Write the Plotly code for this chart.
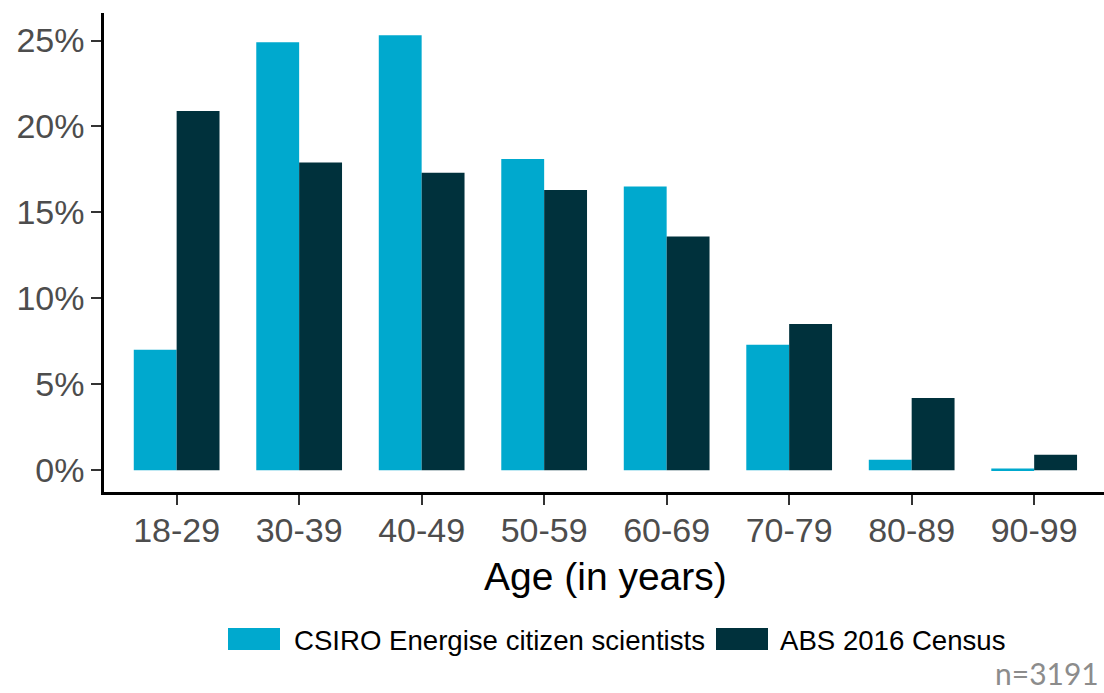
import plotly.graph_objects as go

categories = ["18-29", "30-39", "40-49", "50-59", "60-69", "70-79", "80-89", "90-99"]
csiro_values = [7.0, 24.9, 25.3, 18.1, 16.5, 7.3, 0.6, 0.1]
abs_values = [20.9, 17.9, 17.3, 16.3, 13.6, 8.5, 4.2, 0.9]
series_names = ["CSIRO Energise citizen scientists", "ABS 2016 Census"]
series_colors = ["#00A9CE", "#00313C"]
y_ticks = [0, 5, 10, 15, 20, 25]
y_tick_labels = ["0%", "5%", "10%", "15%", "20%", "25%"]

W, H = 1104, 693
L, R, T, B = 104, 0, 13, 201
PW, PH = W - L - R, H - T - B

def px(xpix):
    return (xpix - L) / PW

def py(ypix):
    return (H - B - ypix) / PH

FONT = "Liberation Sans, Arial, sans-serif"

fig = go.Figure()
for name, vals, col in zip(series_names, [csiro_values, abs_values], series_colors):
    fig.add_trace(go.Bar(x=categories, y=vals, name=name, marker=dict(color=col, line=dict(width=0)),
                         showlegend=False))

fig.update_layout(
    width=W, height=H,
    margin=dict(l=L, r=R, t=T, b=B, pad=0),
    plot_bgcolor="white", paper_bgcolor="white",
    barmode="group", bargap=0.3, bargroupgap=0,
    font=dict(family=FONT),
)
fig.update_xaxes(
    range=[-0.593, 7.57], showgrid=False, zeroline=False,
    showline=True, linecolor="black", linewidth=2.5,
    ticks="outside", ticklen=10, tickwidth=2.2, tickcolor="#333333",
    tickfont=dict(size=34, color="#4D4D4D", family=FONT),
    ticklabelstandoff=-4,
    automargin=False,
)
fig.update_yaxes(
    range=[-1.27, 26.6], showgrid=False, zeroline=False,
    showline=True, linecolor="black", linewidth=2.5,
    ticks="outside", ticklen=10, tickwidth=2.2, tickcolor="#333333",
    tickmode="array", tickvals=y_ticks, ticktext=y_tick_labels,
    tickfont=dict(size=34, color="#4D4D4D", family=FONT),
    automargin=False,
)

# axis title
fig.add_annotation(text="Age (in years)", xref="paper", yref="paper", x=px(605), y=py(576),
                   xanchor="center", yanchor="middle", showarrow=False,
                   font=dict(size=39, color="black", family=FONT))

# custom legend
keys = [(228, 280, 292), (716, 768, 778)]
for (x0, x1, tx), name, col in zip(keys, series_names, series_colors):
    fig.add_shape(type="rect", xref="paper", yref="paper", x0=px(x0), x1=px(x1),
                  y0=py(650), y1=py(628), fillcolor=col, line=dict(width=0))
    fig.add_annotation(text=name, xref="paper", yref="paper", x=px(tx), y=py(640),
                       xanchor="left", yanchor="middle", showarrow=False,
                       font=dict(size=27.6, color="black", family=FONT))

fig.add_annotation(text="n=3191", xref="paper", yref="paper", x=px(1101), y=py(673),
                   xanchor="right", yanchor="middle", showarrow=False,
                   font=dict(size=30, color="#8C8C8C", family="Lato, Noto Sans, sans-serif"))

fig.write_html("out.html", config={"displayModeBar": False},
               post_script="document.body.style.margin='0';document.body.style.overflow='hidden';")
